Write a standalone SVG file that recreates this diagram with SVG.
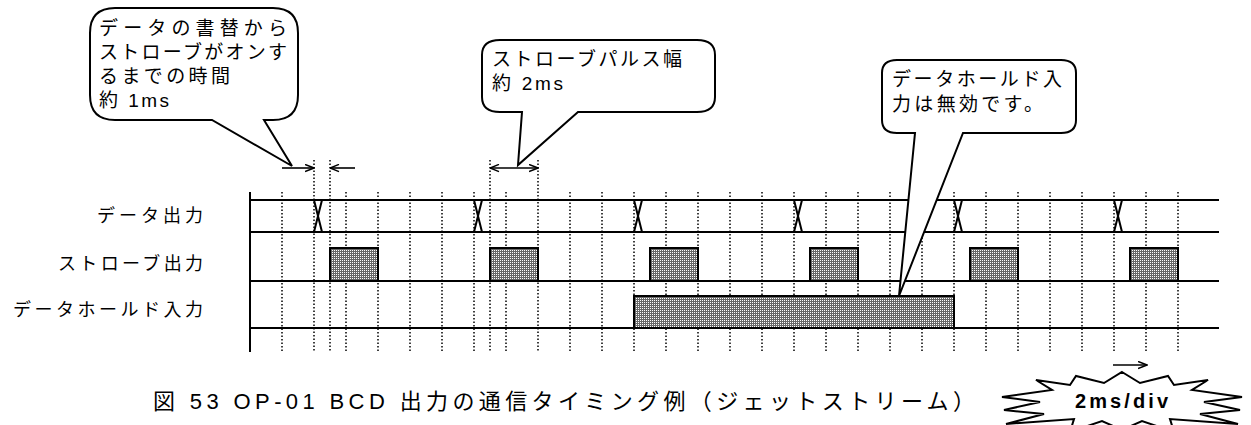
<svg xmlns="http://www.w3.org/2000/svg" width="1251" height="425" viewBox="0 0 1251 425">
<style>
.jp{font-family:"Liberation Sans","Noto Sans CJK JP",sans-serif;fill:#000}
.lbl{font-size:18px}
.bt{font-size:19px}
.cap{font-size:22px}
.sig{stroke:#000;stroke-width:2;fill:none}
.dot{stroke:#000;stroke-width:1.5;stroke-dasharray:1.5 2;fill:none}
.pulse{stroke:#000;stroke-width:2;fill:url(#dots)}
.bal{stroke:#000;stroke-width:2;fill:#fff;stroke-linejoin:miter}
.dim{stroke:#000;stroke-width:1.6;fill:none}
</style>
<defs>
<pattern id="dots" width="2" height="2" patternUnits="userSpaceOnUse">
<rect width="2" height="2" fill="#686868"/>
<rect width="1" height="1" fill="#fff"/>
</pattern>
<marker id="ah" viewBox="0 0 10 10" refX="10" refY="5" markerWidth="10" markerHeight="9" orient="auto-start-reverse" markerUnits="userSpaceOnUse">
<path d="M0,1 L10,5 L0,9" fill="none" stroke="#000" stroke-width="1.6"/>
</marker>
</defs>
<rect width="1251" height="425" fill="#fff"/>

<g id="grid">
<line class="sig" x1="250" y1="192" x2="250" y2="352"/>
<g class="dot">
<line x1="282" y1="192" x2="282" y2="352"/>
<line x1="314" y1="160" x2="314" y2="352"/>
<line x1="330" y1="160" x2="330" y2="352"/>
<line x1="346" y1="192" x2="346" y2="352"/>
<line x1="378" y1="192" x2="378" y2="352"/>
<line x1="410" y1="192" x2="410" y2="352"/>
<line x1="442" y1="192" x2="442" y2="352"/>
<line x1="474" y1="192" x2="474" y2="352"/>
<line x1="490" y1="160" x2="490" y2="352"/>
<line x1="506" y1="192" x2="506" y2="352"/>
<line x1="538" y1="160" x2="538" y2="352"/>
<line x1="570" y1="192" x2="570" y2="352"/>
<line x1="602" y1="192" x2="602" y2="352"/>
<line x1="634" y1="192" x2="634" y2="352"/>
<line x1="666" y1="192" x2="666" y2="352"/>
<line x1="698" y1="192" x2="698" y2="352"/>
<line x1="730" y1="192" x2="730" y2="352"/>
<line x1="762" y1="192" x2="762" y2="352"/>
<line x1="794" y1="192" x2="794" y2="352"/>
<line x1="826" y1="192" x2="826" y2="352"/>
<line x1="858" y1="192" x2="858" y2="352"/>
<line x1="890" y1="192" x2="890" y2="352"/>
<line x1="922" y1="192" x2="922" y2="352"/>
<line x1="954" y1="192" x2="954" y2="352"/>
<line x1="986" y1="192" x2="986" y2="352"/>
<line x1="1018" y1="192" x2="1018" y2="352"/>
<line x1="1050" y1="192" x2="1050" y2="352"/>
<line x1="1082" y1="192" x2="1082" y2="352"/>
<line x1="1114" y1="192" x2="1114" y2="352"/>
<line x1="1146" y1="192" x2="1146" y2="352"/>
<line x1="1178" y1="192" x2="1178" y2="352"/>
</g>
</g>

<g id="data-output">
<text class="jp lbl" x="97" y="222" textLength="106" lengthAdjust="spacing">データ出力</text>
<line class="sig" x1="250" y1="200" x2="1219" y2="200"/>
<line class="sig" x1="250" y1="232" x2="1219" y2="232"/>
<path class="sig" d="M314,200 L322,232 M322,200 L314,232 M474,200 L482,232 M482,200 L474,232 M634,200 L642,232 M642,200 L634,232 M794,200 L802,232 M802,200 L794,232 M954,200 L962,232 M962,200 L954,232 M1114,200 L1122,232 M1122,200 L1114,232"/>
</g>

<g id="strobe-output">
<text class="jp lbl" x="58" y="270" textLength="145" lengthAdjust="spacing">ストローブ出力</text>
<line class="sig" x1="250" y1="281" x2="1219" y2="281"/>
<rect class="pulse" x="330" y="248" width="48" height="33"/>
<rect class="pulse" x="490" y="248" width="48" height="33"/>
<rect class="pulse" x="650" y="248" width="48" height="33"/>
<rect class="pulse" x="810" y="248" width="48" height="33"/>
<rect class="pulse" x="970" y="248" width="48" height="33"/>
<rect class="pulse" x="1130" y="248" width="48" height="33"/>
</g>

<g id="hold-input">
<text class="jp lbl" x="13" y="316" textLength="190" lengthAdjust="spacing">データホールド入力</text>
<line class="sig" x1="250" y1="328" x2="1219" y2="328"/>
<rect class="pulse" x="634" y="296" width="320" height="32"/>
</g>

<g id="connectors">
<line class="dim" x1="282" y1="168" x2="314" y2="168" marker-end="url(#ah)"/>
<line class="dim" x1="355" y1="168" x2="330" y2="168" marker-end="url(#ah)"/>
<line class="dim" x1="490" y1="168" x2="538" y2="168" marker-start="url(#ah)" marker-end="url(#ah)"/>
<line class="dim" x1="1113" y1="365" x2="1147" y2="365" marker-end="url(#ah)"/>
</g>

<g id="callout-delay">
<path class="bal" d="M115,8 H273 Q298,8 298,33 V95 Q298,120 273,120 H264 L292,166 L212,120 H115 Q90,120 90,95 V33 Q90,8 115,8 Z"/>
<text class="jp bt" x="99" y="35" textLength="188" lengthAdjust="spacing" font-size="20">データの書替から</text>
<text class="jp bt" x="99" y="59" textLength="188" lengthAdjust="spacing" font-size="20">ストローブがオンす</text>
<text class="jp bt" x="99" y="83" textLength="131" lengthAdjust="spacing" font-size="20">るまでの時間</text>
<text class="jp bt" x="99" y="107" textLength="70" lengthAdjust="spacing" font-size="20">約 1ms</text>
</g>

<g id="callout-width">
<path class="bal" d="M500,40 H697 Q715,40 715,55 V97 Q715,112 697,112 H578 L518,165 L522,112 H500 Q482,112 482,97 V55 Q482,40 500,40 Z"/>
<text class="jp bt" x="492" y="66" textLength="190" lengthAdjust="spacing">ストローブパルス幅</text>
<text class="jp bt" x="492" y="90" textLength="71" lengthAdjust="spacing">約 2ms</text>
</g>

<g id="callout-hold">
<path class="bal" d="M897,60 H1061 Q1076,60 1076,73 V120 Q1076,133 1061,133 H963 L899,296 L915,133 H897 Q882,133 882,120 V73 Q882,60 897,60 Z"/>
<text class="jp bt" x="892" y="86" textLength="170" lengthAdjust="spacing">データホールド入</text>
<text class="jp bt" x="892" y="111" textLength="151" lengthAdjust="spacing">力は無効です。</text>
</g>

<g id="caption">
<text class="jp cap" x="153" y="409" textLength="822" lengthAdjust="spacing">図 53 OP-01 BCD 出力の通信タイミング例（ジェットストリーム）</text>
</g>

<g id="scale">
<polygon class="bal" points="1122,372 1140,383 1168,376 1174,385 1208,380 1192,390 1242,397 1204,402 1240,410 1200,414 1238,424 1170,419 1174,432 1142,421 1122,430 1102,421 1070,432 1074,419 1006,424 1044,414 1004,410 1040,402 1002,397 1052,390 1036,380 1070,385 1076,376 1104,383"/>
<text class="jp" x="1075" y="408" font-size="20" font-weight="bold" textLength="93" lengthAdjust="spacing">2ms/div</text>
</g>
</svg>
